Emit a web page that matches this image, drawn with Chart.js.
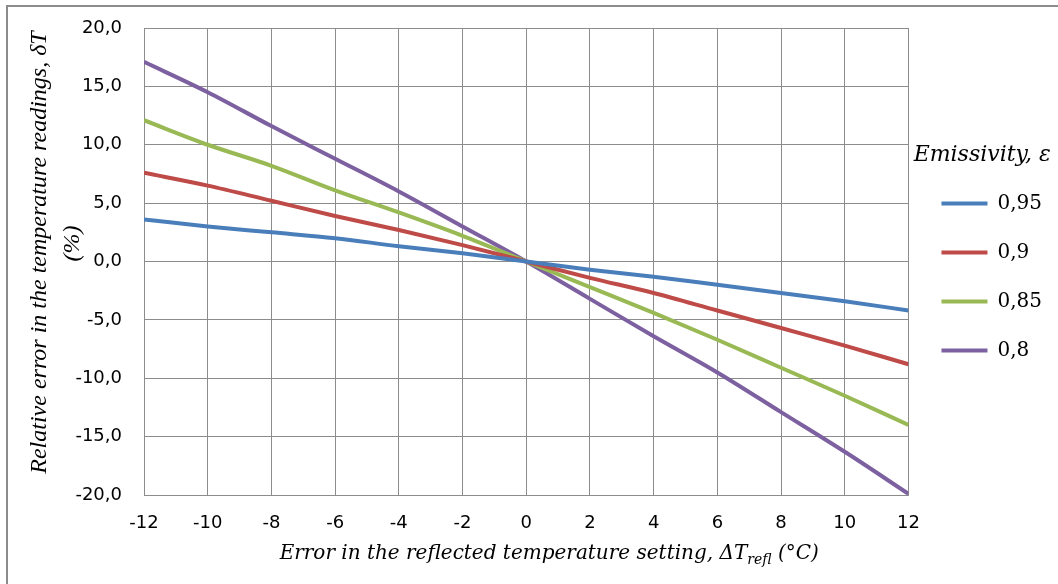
<!DOCTYPE html>
<html>
<head>
<meta charset="utf-8">
<script src="https://cdn.jsdelivr.net/npm/chart.js@4"></script>
<style>
html, body { margin: 0; padding: 0; background: #fff; overflow: hidden; }
#wrap { position: relative; width: 1058px; height: 584px; }
#frame { position: absolute; left: 6px; top: 5px; width: 1100px; height: 700px; border: 2px solid #8c8c8c; box-sizing: border-box; }
canvas { position: absolute; left: 0; top: 0; }
</style>
</head>
<body>
<div id="wrap">
  <div id="frame"></div>
  <canvas id="chart" width="1058" height="584"></canvas>
</div>
<script>
// error in reflected temperature setting (°C)
const deltaT = [-12, -10, -8, -6, -4, -2, 0, 2, 4, 6, 8, 10, 12];
const emissivity = ["0,95", "0,9", "0,85", "0,8"];

// relative error in the temperature readings (%)
const err095 = [3.6, 3.0, 2.5, 2.0, 1.3, 0.7, 0, -0.7, -1.3, -2.0, -2.7, -3.4, -4.2];
const err090 = [7.6, 6.5, 5.2, 3.9, 2.7, 1.4, 0, -1.4, -2.7, -4.2, -5.7, -7.2, -8.8];
const err085 = [12.1, 10.0, 8.2, 6.1, 4.2, 2.2, 0, -2.2, -4.4, -6.7, -9.1, -11.5, -14.0];
const err080 = [17.1, 14.5, 11.6, 8.8, 6.0, 3.0, 0, -3.2, -6.4, -9.5, -12.9, -16.3, -19.9];

const colors = ["#4a7ebb", "#be4b48", "#98b954", "#7d60a0"];
const series = [err095, err090, err085, err080];

const gridColor = "#8c8c8c";
const sansFont = "'DejaVu Sans', sans-serif";
const serifFont = "'DejaVu Serif', serif";

// x axis title with a subscript
const xTitlePlugin = {
    id: "xTitle",
    afterDraw(chart) {
        const ctx = chart.ctx;
        const area = chart.chartArea;
        const part1 = "Error in the reflected temperature setting, \u0394T";
        const sub = "refl";
        const part2 = " (\u00b0C)";
        const big = "italic 20px " + serifFont;
        const small = "italic 14px " + serifFont;
        ctx.save();
        ctx.fillStyle = "#000";
        ctx.textBaseline = "alphabetic";
        ctx.textAlign = "left";
        ctx.font = big;
        const w1 = ctx.measureText(part1).width;
        const w3 = ctx.measureText(part2).width;
        ctx.font = small;
        const w2 = ctx.measureText(sub).width;
        const total = w1 + w2 + w3;
        let x = (area.left + area.right) / 2 + 23 - total / 2;
        const y = area.bottom + 64;
        ctx.font = big;
        ctx.fillText(part1, x, y);
        x += w1;
        ctx.font = small;
        ctx.fillText(sub, x, y + 5);
        x += w2;
        ctx.font = big;
        ctx.fillText(part2, x, y);
        ctx.restore();
    }
};

// nudge the legend a few pixels right, away from the plot
const legendShift = {
    id: "legendShift",
    afterLayout(chart) {
        chart.legend.left += 4;
        chart.legend.right += 4;
    }
};

new Chart(document.getElementById("chart"), {
    type: "line",
    data: {
        datasets: series.map((vals, i) => ({
            label: emissivity[i],
            data: vals.map((v, j) => ({x: deltaT[j], y: v})),
            borderColor: colors[i],
            backgroundColor: colors[i],
            borderWidth: 4,
            pointRadius: 0,
            cubicInterpolationMode: "monotone",
            fill: false
        }))
    },
    options: {
        responsive: false,
        animation: false,
        layout: {
            padding: {left: 0, top: 28, right: 10, bottom: 0}
        },
        plugins: {
            legend: {
                position: "right",
                align: "start",
                title: {
                    display: true,
                    text: "Emissivity, \u03b5",
                    color: "#000",
                    font: {family: serifFont, size: 22, style: "italic"},
                    padding: {top: 116, bottom: -6}
                },
                labels: {
                    usePointStyle: true,
                    pointStyle: "line",
                    pointStyleWidth: 46,
                    color: "#000",
                    font: {family: serifFont, size: 20},
                    padding: 29
                }
            },
            tooltip: {enabled: false}
        },
        scales: {
            x: {
                type: "linear",
                min: -12,
                max: 12,
                afterFit(scale) { scale.height = 89; },
                ticks: {
                    stepSize: 2,
                    color: "#000",
                    padding: 18,
                    font: {family: sansFont, size: 18},
                    callback: v => String(v)
                },
                grid: {color: gridColor, lineWidth: 1, drawTicks: false},
                border: {color: gridColor, width: 1}
            },
            y: {
                min: -20,
                max: 20,
                afterFit(scale) { scale.width = 144; },
                ticks: {
                    stepSize: 5,
                    color: "#000",
                    padding: 6,
                    font: {family: sansFont, size: 18},
                    callback: v => v.toFixed(1).replace(".", ",")
                },
                grid: {color: gridColor, lineWidth: 1, drawTicks: true, tickLength: 16, tickColor: "rgba(0,0,0,0)"},
                border: {color: gridColor, width: 1},
                title: {
                    display: true,
                    // leading spaces lift the centred text a little, as in the original
                    text: ["   Relative error in the temperature readings, \u03b4T", "      (%)"],
                    color: "#000",
                    font: {family: "'Liberation Serif', serif", size: 24, style: "italic", lineHeight: 1.375},
                    padding: {top: 23, bottom: 0}
                }
            }
        }
    },
    plugins: [xTitlePlugin, legendShift]
});
</script>
</body>
</html>
